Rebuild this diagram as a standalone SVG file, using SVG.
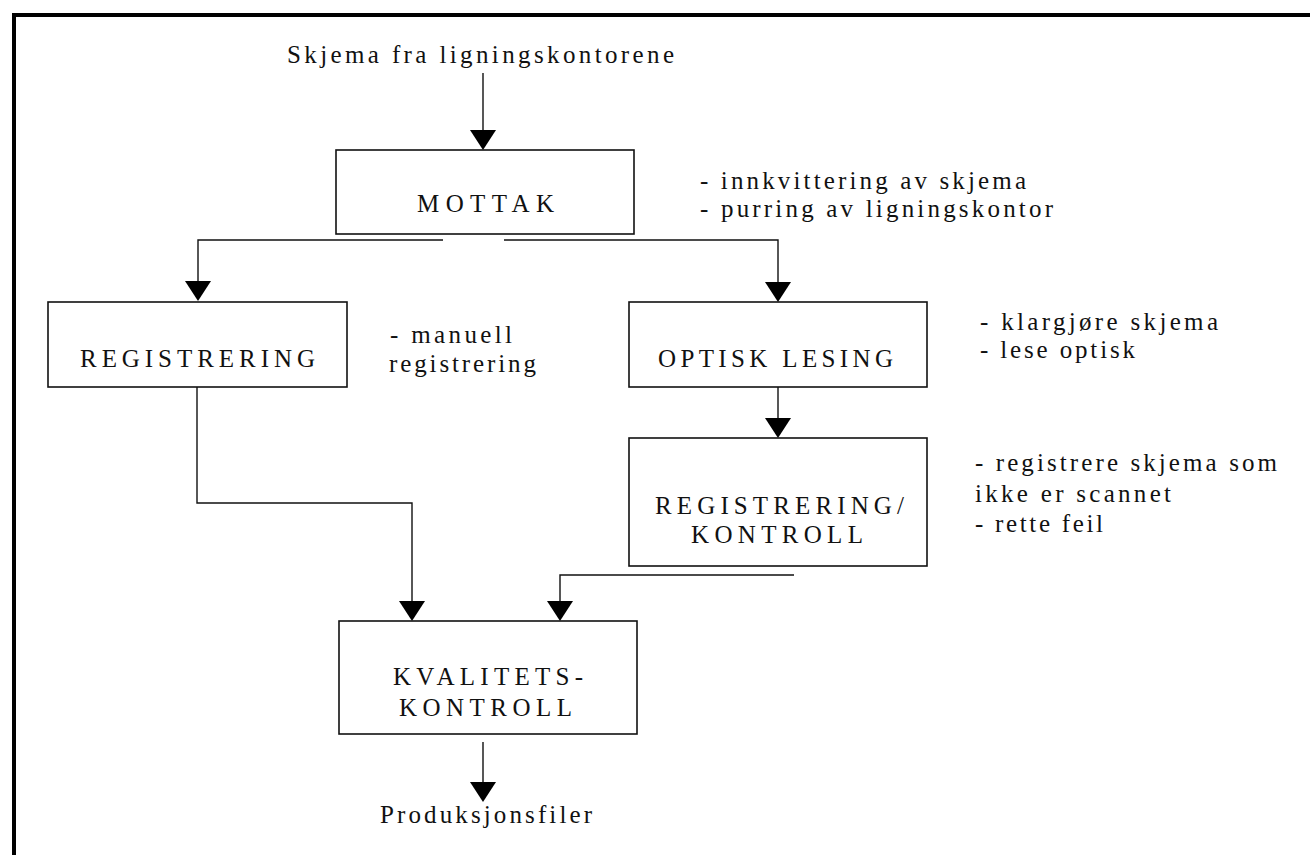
<svg xmlns="http://www.w3.org/2000/svg" width="1310" height="855" viewBox="0 0 1310 855">
<style>
  text { font-family: "Liberation Serif", "Times New Roman", serif; font-size: 25px; fill: #111; }
  .box { fill: #fff; stroke: #111; stroke-width: 1.6; }
  .conn { fill: none; stroke: #111; stroke-width: 1.4; }
  .head { fill: #000; stroke: none; }
  .frame { fill: none; stroke: #000; stroke-width: 4; }
</style>
<defs>
  <polygon id="ah" points="-13,-20 13,-20 0,0" />
</defs>
<rect x="0" y="0" width="1310" height="855" fill="#fff"/>
<path class="frame" d="M14,857 V15 H1312"/>

<g id="connectors">
  <line class="conn" x1="483" y1="73" x2="483" y2="134"/>
  <use href="#ah" class="head" x="483" y="150"/>
  <path class="conn" d="M443,240 H198 V284"/>
  <use href="#ah" class="head" x="198" y="301"/>
  <path class="conn" d="M504,240 H778 V285"/>
  <use href="#ah" class="head" x="778" y="302"/>
  <line class="conn" x1="778" y1="387" x2="778" y2="420"/>
  <use href="#ah" class="head" x="778" y="438"/>
  <path class="conn" d="M197,387 V503 H412 V603"/>
  <use href="#ah" class="head" x="412" y="621"/>
  <path class="conn" d="M794,575 H560 V603"/>
  <use href="#ah" class="head" x="560" y="621"/>
  <line class="conn" x1="483" y1="742" x2="483" y2="785"/>
  <use href="#ah" class="head" x="483" y="802"/>
</g>

<g id="source">
  <text x="287" y="63" textLength="387" lengthAdjust="spacing">Skjema fra ligningskontorene</text>
</g>

<g id="mottak">
  <rect class="box" x="336" y="150" width="298" height="84"/>
  <text x="417" y="212" textLength="137" lengthAdjust="spacing">MOTTAK</text>
</g>
<g id="mottak-notes">
  <text x="700" y="189" textLength="326" lengthAdjust="spacing">- innkvittering av skjema</text>
  <text x="700" y="217" textLength="353" lengthAdjust="spacing">- purring av ligningskontor</text>
</g>

<g id="registrering">
  <rect class="box" x="48" y="302" width="299" height="85"/>
  <text x="80" y="367" textLength="235" lengthAdjust="spacing">REGISTRERING</text>
</g>
<g id="registrering-notes">
  <text x="390" y="343" textLength="122" lengthAdjust="spacing">- manuell</text>
  <text x="389" y="372" textLength="147" lengthAdjust="spacing">registrering</text>
</g>

<g id="optisk">
  <rect class="box" x="629" y="302" width="298" height="85"/>
  <text x="658" y="367" textLength="235" lengthAdjust="spacing">OPTISK LESING</text>
</g>
<g id="optisk-notes">
  <text x="980" y="330" textLength="238" lengthAdjust="spacing">- klargjøre skjema</text>
  <text x="980" y="358" textLength="155" lengthAdjust="spacing">- lese optisk</text>
</g>

<g id="regkontroll">
  <rect class="box" x="629" y="438" width="298" height="128"/>
  <text x="655" y="514" textLength="249" lengthAdjust="spacing">REGISTRERING/</text>
  <text x="691" y="543" textLength="172" lengthAdjust="spacing">KONTROLL</text>
</g>
<g id="regkontroll-notes">
  <text x="975" y="471" textLength="302" lengthAdjust="spacing">- registrere skjema som</text>
  <text x="975" y="502" textLength="196" lengthAdjust="spacing">ikke er scannet</text>
  <text x="975" y="532" textLength="128" lengthAdjust="spacing">- rette feil</text>
</g>

<g id="kvalitet">
  <rect class="box" x="339" y="621" width="298" height="113"/>
  <text x="393" y="685" textLength="190" lengthAdjust="spacing">KVALITETS-</text>
  <text x="399" y="716" textLength="173" lengthAdjust="spacing">KONTROLL</text>
</g>

<g id="output">
  <text x="380" y="823" textLength="212" lengthAdjust="spacing">Produksjonsfiler</text>
</g>
</svg>
